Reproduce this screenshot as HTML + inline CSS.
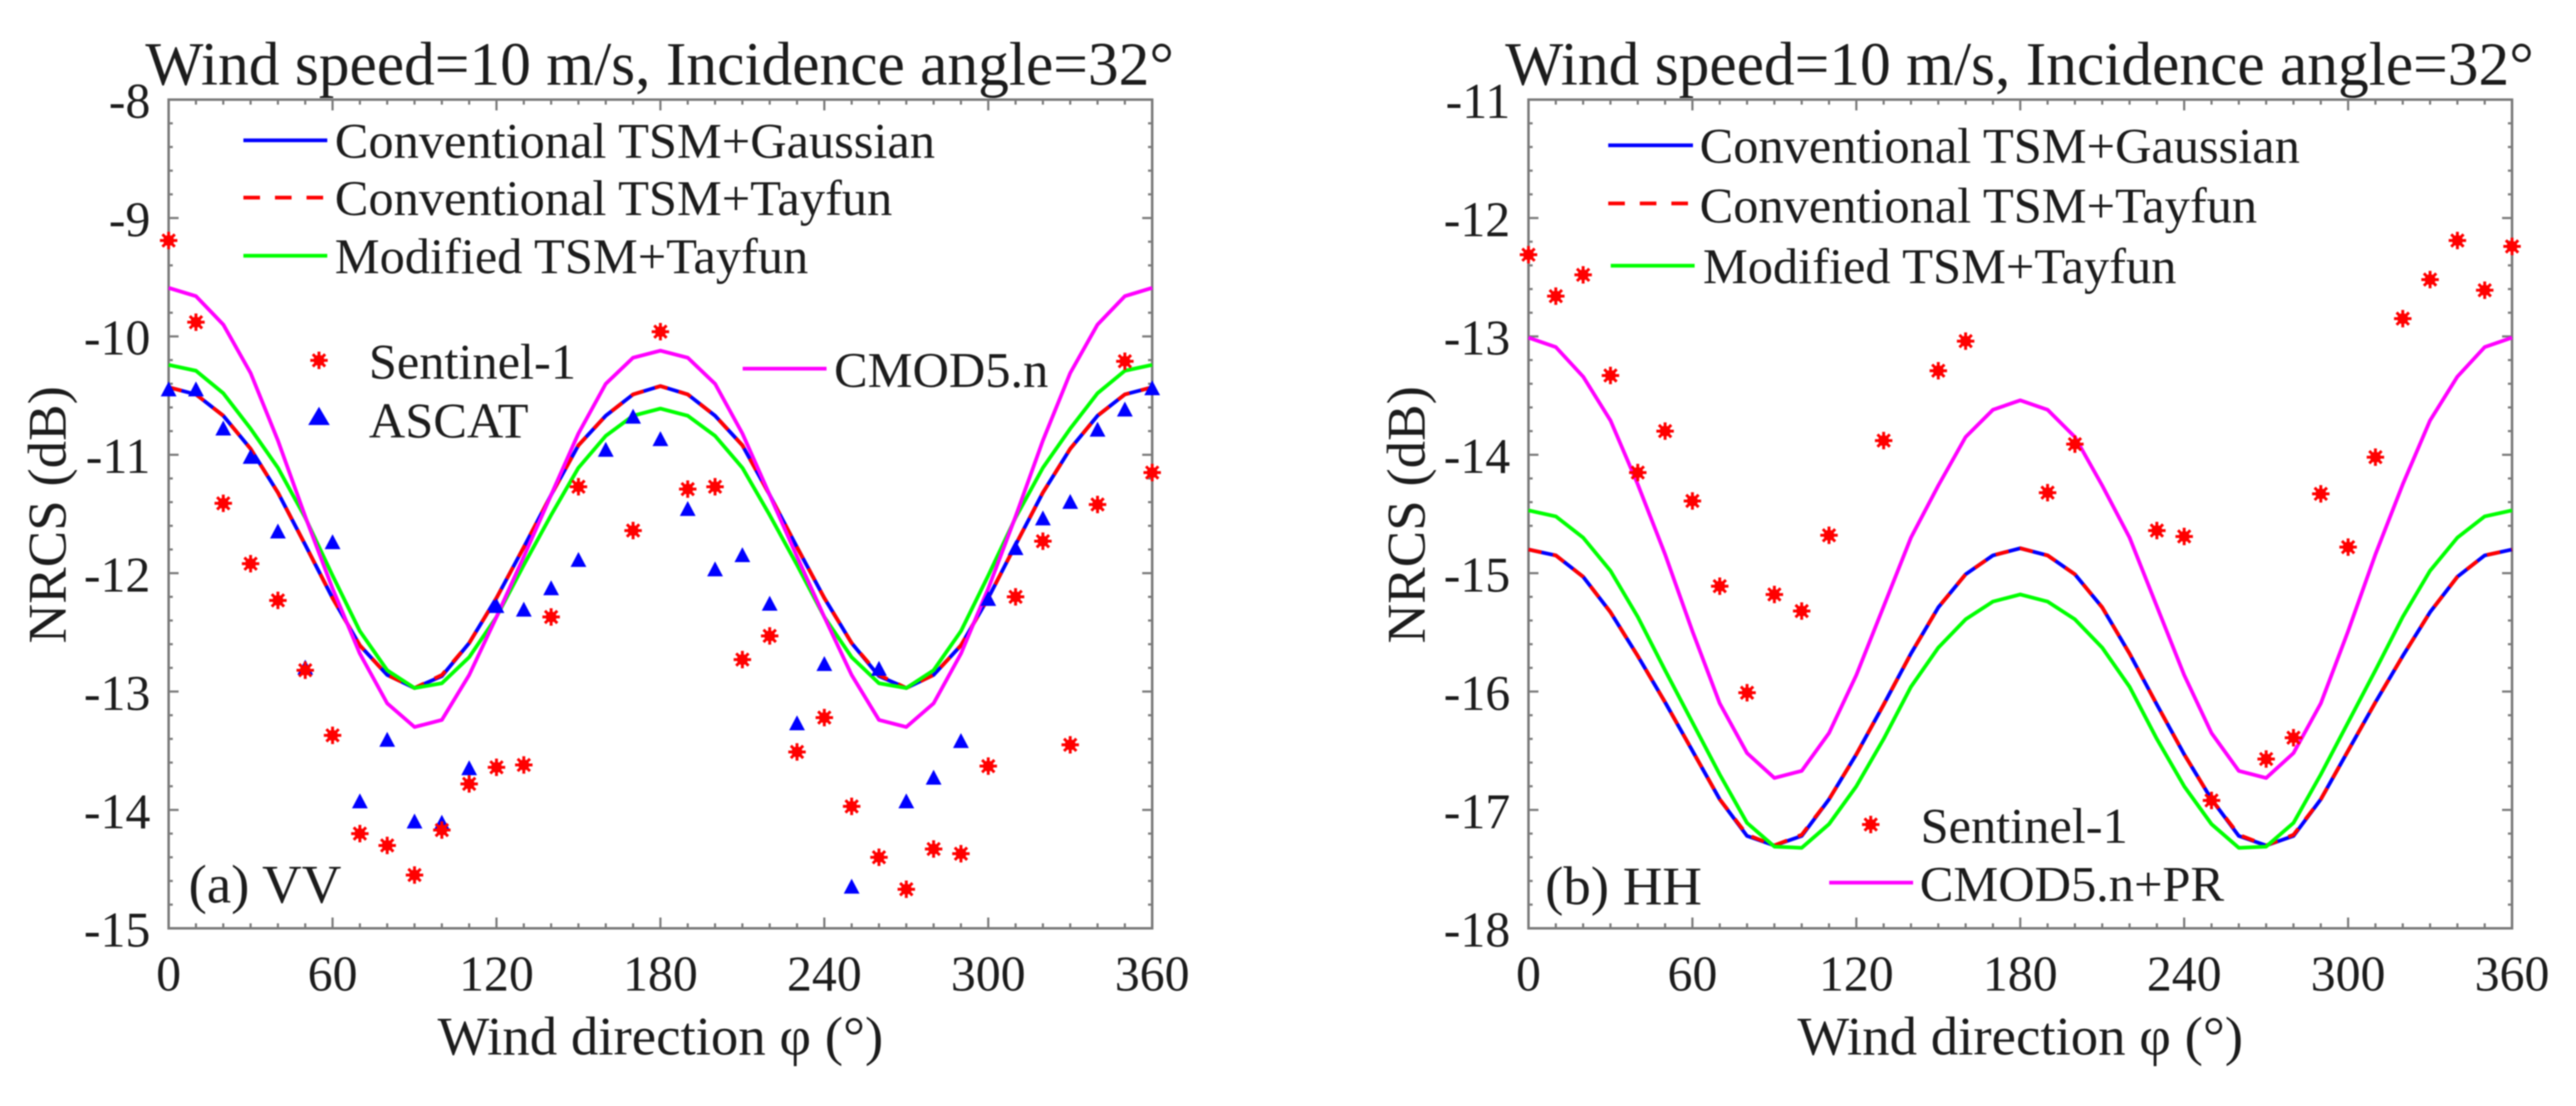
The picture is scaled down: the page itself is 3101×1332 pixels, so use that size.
<!DOCTYPE html>
<html lang="en">
<head>
<meta charset="utf-8">
<title>NRCS versus wind direction</title>
<style>
  html, body { margin: 0; padding: 0; background: #fff; }
  svg { display: block; filter: blur(0.7px); }
  text { font-family: "Liberation Serif", serif; fill: #1c1c1c; }
  .title { font-size: 74px; }
  .axis-title { font-size: 66px; }
  .tick { font-size: 60px; }
  .legend { font-size: 60.7px; }
  .tag { font-size: 66px; }
</style>
</head>
<body>
<svg id="figure" xmlns="http://www.w3.org/2000/svg" width="3101" height="1332" viewBox="0 0 3101 1332">
  <rect width="3101" height="1332" fill="#fff"/>

  <g id="panel-a">
    <text class="title" x="175" y="102">Wind speed=10 m/s, Incidence angle=32°</text>
    <text class="axis-title" x="795" y="1270" text-anchor="middle">Wind direction φ (°)</text>
    <text class="axis-title" transform="translate(79 620) rotate(-90)" text-anchor="middle">NRCS (dB)</text>
    <text class="tag" x="227" y="1087">(a) VV</text>
    <g>
      <line x1="293" y1="169" x2="394" y2="169" stroke="#0000ff" stroke-width="4.5"/>
      <text class="legend" x="403" y="190">Conventional TSM+Gaussian</text>
      <line x1="293" y1="238" x2="392" y2="238" stroke="#ff0000" stroke-width="4.5" stroke-dasharray="20 18"/>
      <text class="legend" x="403" y="259">Conventional TSM+Tayfun</text>
      <line x1="293" y1="308" x2="394" y2="308" stroke="#00ff00" stroke-width="4.5"/>
      <text class="legend" x="403" y="329">Modified TSM+Tayfun</text>
      <text class="legend" x="444" y="456">Sentinel-1</text>
      <text class="legend" x="444" y="527">ASCAT</text>
      <line x1="894" y1="444" x2="995" y2="444" stroke="#ff00ff" stroke-width="4.5"/>
      <text class="legend" x="1004" y="466">CMOD5.n</text>
    </g>
  </g>

  <g id="panel-b">
    <text class="title" x="1812" y="102">Wind speed=10 m/s, Incidence angle=32°</text>
    <text class="axis-title" x="2432" y="1270" text-anchor="middle">Wind direction φ (°)</text>
    <text class="axis-title" transform="translate(1715 620) rotate(-90)" text-anchor="middle">NRCS (dB)</text>
    <text class="tag" x="1860" y="1089">(b) HH</text>
    <g>
      <line x1="1936" y1="175" x2="2038" y2="175" stroke="#0000ff" stroke-width="4.5"/>
      <text class="legend" x="2046" y="196">Conventional TSM+Gaussian</text>
      <line x1="1936" y1="245" x2="2035" y2="245" stroke="#ff0000" stroke-width="4.5" stroke-dasharray="20 18"/>
      <text class="legend" x="2046" y="268">Conventional TSM+Tayfun</text>
      <line x1="1939" y1="320" x2="2040" y2="320" stroke="#00ff00" stroke-width="4.5"/>
      <text class="legend" x="2050" y="341">Modified TSM+Tayfun</text>
      <text class="legend" x="2312" y="1015">Sentinel-1</text>
      <line x1="2202" y1="1063" x2="2303" y2="1063" stroke="#ff00ff" stroke-width="4.5"/>
      <text class="legend" x="2311" y="1085">CMOD5.n+PR</text>
    </g>
  </g>
</svg>

<script>
// ---------- shared categories and tick labels ----------
const directions = [0,10,20,30,40,50,60,70,80,90,100,110,120,130,140,150,160,170,180,190,200,210,220,230,240,250,260,270,280,290,300,310,320,330,340,350,360];
const xTickLabels = [0,60,120,180,240,300,360];
const vvYTickLabels = [-8,-9,-10,-11,-12,-13,-14,-15];
const hhYTickLabels = [-11,-12,-13,-14,-15,-16,-17,-18];

// ---------- panel (a) VV ----------
const vvGaussian = [-10.43,-10.49,-10.67,-10.95,-11.32,-11.76,-12.21,-12.61,-12.86,-12.97,-12.87,-12.59,-12.21,-11.78,-11.34,-10.92,-10.67,-10.49,-10.42,-10.49,-10.67,-10.92,-11.34,-11.78,-12.21,-12.59,-12.87,-12.97,-12.86,-12.61,-12.21,-11.76,-11.32,-10.95,-10.67,-10.49,-10.43];
const vvTayfun = [-10.43,-10.49,-10.67,-10.95,-11.32,-11.76,-12.21,-12.61,-12.86,-12.97,-12.86,-12.59,-12.21,-11.78,-11.34,-10.92,-10.67,-10.49,-10.42,-10.49,-10.67,-10.92,-11.34,-11.78,-12.21,-12.59,-12.86,-12.97,-12.86,-12.61,-12.21,-11.76,-11.32,-10.95,-10.67,-10.49,-10.43];
const vvModified = [-10.24,-10.29,-10.48,-10.78,-11.11,-11.53,-12.02,-12.49,-12.82,-12.97,-12.93,-12.71,-12.37,-11.93,-11.51,-11.11,-10.84,-10.67,-10.61,-10.67,-10.84,-11.11,-11.51,-11.93,-12.37,-12.71,-12.93,-12.97,-12.82,-12.49,-12.02,-11.53,-11.11,-10.78,-10.48,-10.29,-10.24];
const vvCmod = [-9.59,-9.66,-9.9,-10.31,-10.88,-11.52,-12.13,-12.68,-13.1,-13.3,-13.24,-12.86,-12.37,-11.86,-11.34,-10.82,-10.4,-10.18,-10.12,-10.18,-10.4,-10.82,-11.34,-11.86,-12.37,-12.86,-13.24,-13.3,-13.1,-12.68,-12.13,-11.52,-10.88,-10.31,-9.9,-9.66,-9.59];
const vvSentinelAngles = [0,10,20,30,40,50,60,70,80,90,100,110,120,130,140,150,170,180,190,200,210,220,230,240,250,260,270,280,290,300,310,320,330,340,350,360];
const vvSentinel = [-9.19,-9.88,-11.41,-11.92,-12.23,-12.82,-13.37,-14.2,-14.3,-14.55,-14.17,-13.78,-13.64,-13.62,-12.37,-11.27,-11.64,-9.96,-11.29,-11.27,-12.73,-12.53,-13.51,-13.22,-13.97,-14.4,-14.67,-14.33,-14.37,-13.63,-12.2,-11.73,-13.45,-11.42,-10.21,-11.15];
const vvAscat = [-10.45,-10.45,-10.78,-11.02,-11.65,-12.8,-11.74,-13.93,-13.41,-14.1,-14.11,-13.65,-12.28,-12.31,-12.13,-11.89,-10.96,-10.68,-10.87,-11.46,-11.97,-11.85,-12.26,-13.27,-12.77,-14.65,-12.81,-13.93,-13.73,-13.42,-12.22,-11.79,-11.54,-11.4,-10.79,-10.62,-10.44];

// ---------- panel (b) HH ----------
const hhGaussian = [-14.8,-14.85,-15.03,-15.33,-15.7,-16.09,-16.5,-16.91,-17.22,-17.3,-17.22,-16.91,-16.53,-16.11,-15.68,-15.29,-15.01,-14.85,-14.79,-14.85,-15.01,-15.29,-15.68,-16.11,-16.53,-16.91,-17.22,-17.3,-17.22,-16.91,-16.5,-16.09,-15.7,-15.33,-15.03,-14.85,-14.8];
const hhTayfun = [-14.8,-14.85,-15.03,-15.33,-15.7,-16.09,-16.5,-16.91,-17.21,-17.3,-17.21,-16.91,-16.53,-16.11,-15.68,-15.29,-15.01,-14.85,-14.79,-14.85,-15.01,-15.29,-15.68,-16.11,-16.53,-16.91,-17.21,-17.3,-17.21,-16.91,-16.5,-16.09,-15.7,-15.33,-15.03,-14.85,-14.8];
const hhModified = [-14.47,-14.52,-14.7,-14.98,-15.37,-15.82,-16.26,-16.7,-17.11,-17.31,-17.32,-17.12,-16.8,-16.4,-15.96,-15.63,-15.39,-15.24,-15.18,-15.24,-15.39,-15.63,-15.96,-16.4,-16.8,-17.12,-17.32,-17.31,-17.11,-16.7,-16.26,-15.82,-15.37,-14.98,-14.7,-14.52,-14.47];
const hhCmod = [-13.01,-13.09,-13.34,-13.71,-14.25,-14.84,-15.49,-16.1,-16.52,-16.73,-16.67,-16.35,-15.86,-15.28,-14.7,-14.26,-13.85,-13.62,-13.54,-13.62,-13.85,-14.26,-14.7,-15.28,-15.86,-16.35,-16.67,-16.73,-16.52,-16.1,-15.49,-14.84,-14.25,-13.71,-13.34,-13.09,-13.01];
const hhSentinelAngles = [0,10,20,30,40,50,60,70,80,90,100,110,130,150,160,190,200,230,240,250,270,280,290,300,310,320,330,340,350,360];
const hhSentinel = [-12.31,-12.66,-12.48,-13.33,-14.15,-13.8,-14.39,-15.11,-16.01,-15.18,-15.32,-14.68,-13.88,-13.29,-13.04,-14.32,-13.91,-14.64,-14.69,-16.92,-16.57,-16.39,-14.33,-14.78,-14.02,-12.85,-12.52,-12.19,-12.61,-12.24];

const SVG_NS = 'http://www.w3.org/2000/svg';
const FRAME_TOP = 120, FRAME_BOTTOM = 1118, FRAME_WIDTH = 1184;
const AXIS_GRAY = '#7a7a7a';

function make(tag, attrs, parent) {
  const node = document.createElementNS(SVG_NS, tag);
  Object.keys(attrs).forEach(function (k) { node.setAttribute(k, attrs[k]); });
  parent.appendChild(node);
  return node;
}

function drawStar(parent, cx, cy) {
  const g = make('g', { stroke: '#ff0000', 'stroke-width': 3.5, fill: '#ff0000' }, parent);
  
  
  make('circle', { cx: cx, cy: cy, r: 6.5, stroke: 'none' }, g);
  [0, 45, 90, 135].forEach(function (deg) {
    const a = deg * Math.PI / 180, dx = 10.5 * Math.cos(a), dy = 10.5 * Math.sin(a);
    make('line', { x1: cx - dx, y1: cy - dy, x2: cx + dx, y2: cy + dy }, g);
  });
}

function drawTriangle(parent, cx, cy, halfWidth, height) {
  const t = make('polygon', {
    points: (cx - halfWidth) + ',' + (cy + height * 0.45) + ' ' + (cx + halfWidth) + ',' + (cy + height * 0.45) + ' ' + cx + ',' + (cy - height * 0.55),
    fill: '#0000ff'
  }, parent);
  
  
}

function drawPanel(panelId, left, yLabels, curves, sentinelAngles, sentinelValues, ascatValues) {
  const root = document.getElementById(panelId);
  const yMax = yLabels[0], yMin = yLabels[yLabels.length - 1];
  const xScale = function (v) { return left + v / 360 * FRAME_WIDTH; };
  const yScale = function (v) { return FRAME_TOP + (yMax - v) / (yMax - yMin) * (FRAME_BOTTOM - FRAME_TOP); };
  const right = left + FRAME_WIDTH;

  const axes = make('g', { stroke: AXIS_GRAY, 'stroke-width': 2.6, fill: 'none' }, root);
  
  
  make('rect', { x: left, y: FRAME_TOP, width: FRAME_WIDTH, height: FRAME_BOTTOM - FRAME_TOP, 'stroke-width': 3 }, axes);

  for (let a = 0; a <= 360; a += 10) {
    const len = a % 60 === 0 ? 13 : 6;
    make('line', { x1: xScale(a), x2: xScale(a), y1: FRAME_BOTTOM, y2: FRAME_BOTTOM - len }, axes);
    make('line', { x1: xScale(a), x2: xScale(a), y1: FRAME_TOP, y2: FRAME_TOP + len }, axes);
  }
  for (let i = 0; i <= (yMax - yMin) * 5; i++) {
    const v = yMax - i / 5;
    const len = i % 5 === 0 ? 12 : 5;
    make('line', { x1: left, x2: left + len, y1: yScale(v), y2: yScale(v) }, axes);
    make('line', { x1: right, x2: right - len, y1: yScale(v), y2: yScale(v) }, axes);
  }

  xTickLabels.forEach(function (v) {
    const t = make('text', { x: xScale(v), y: 1193, 'text-anchor': 'middle', class: 'tick' }, root);
    
    
    t.textContent = String(v);
  });
  yLabels.forEach(function (v) {
    const t = make('text', { x: left - 22, y: yScale(v) + 22, 'text-anchor': 'end', class: 'tick' }, root);
    
    
    t.textContent = String(v);
  });

  curves.forEach(function (c) {
    const pts = directions.map(function (a, i) { return xScale(a).toFixed(1) + ',' + yScale(c.values[i]).toFixed(1); }).join(' ');
    const line = make('polyline', { points: pts, fill: 'none', stroke: c.color, 'stroke-width': 4.5, 'stroke-linejoin': 'round' }, root);
    if (c.dash) line.setAttribute('stroke-dasharray', c.dash);
    
    
  });

  if (ascatValues) {
    directions.forEach(function (a, i) { drawTriangle(root, xScale(a), yScale(ascatValues[i]), 9.5, 18); });
  }
  sentinelAngles.forEach(function (a, i) { drawStar(root, xScale(a), yScale(sentinelValues[i])); });
}

drawPanel('panel-a', 203, vvYTickLabels, [
  { name: 'line-gaussian', color: '#0000ff', values: vvGaussian },
  { name: 'line-tayfun', color: '#ff0000', values: vvTayfun, dash: '16 14' },
  { name: 'line-modified', color: '#00ff00', values: vvModified },
  { name: 'line-cmod', color: '#ff00ff', values: vvCmod }
], vvSentinelAngles, vvSentinel, vvAscat);

drawPanel('panel-b', 1840, hhYTickLabels, [
  { name: 'line-gaussian', color: '#0000ff', values: hhGaussian },
  { name: 'line-tayfun', color: '#ff0000', values: hhTayfun, dash: '16 14' },
  { name: 'line-modified', color: '#00ff00', values: hhModified },
  { name: 'line-cmod-pr', color: '#ff00ff', values: hhCmod }
], hhSentinelAngles, hhSentinel, null);

const panelA = document.getElementById('panel-a');
const panelB = document.getElementById('panel-b');
drawStar(panelA, 384, 434);
drawTriangle(panelA, 384, 502, 13, 22);
drawStar(panelB, 2252, 993);
</script>
</body>
</html>
